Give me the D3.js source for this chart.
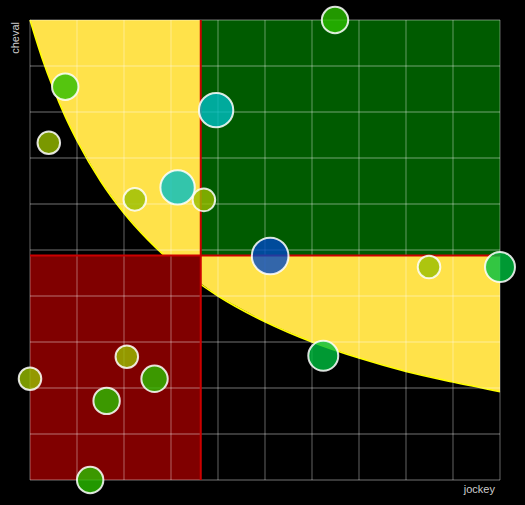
<!DOCTYPE html>
<html><head><meta charset="utf-8">
<script src="https://cdn.jsdelivr.net/npm/d3@7"></script>
<style>html,body{margin:0;padding:0;background:#000;}svg{display:block;}</style>
</head><body>
<script>
// ---- data ----
const jockey = [6.49, 0.75, 0.40, 3.96, 2.23, 3.14, 3.70, 5.11, 8.49, 10.0, 6.24, 2.06, 2.65, 0.00, 1.63, 1.28];
const cheval = [10.0, 8.55, 7.33, 8.04, 6.10, 6.36, 6.09, 4.87, 4.63, 4.63, 2.70, 2.68, 2.20, 2.20, 1.72, 0.00];
const poids  = [52, 52, 38, 88, 38, 88, 38, 100, 38, 67, 67, 38, 52, 38, 52, 52];
const groupe = ["G1","G1","G2","G3","G2","G3","G2","G4","G2","G5","G5","G2","G1","G2","G1","G1"];
const groupes = ["G1","G2","G3","G4","G5"];
const ticks = [0,1,2,3,4,5,6,7,8,9,10];
// iso curve
const curveJockey = [0, 0.25, 0.5, 0.75, 1, 1.5, 2, 2.5, 3, 4, 5, 6, 7, 8, 9, 10];
const curveCheval = [10, 9.19, 8.5, 7.9, 7.38, 6.5, 5.8, 5.23, 4.75, 4.0, 3.44, 3.0, 2.65, 2.36, 2.13, 1.92];

const W = 525, H = 505;
const m = {l:30, r:25, t:20, b:25};
const svg = d3.select("body").append("svg").attr("width", W).attr("height", H)
  .style("background", "#000");

const x = d3.scaleLinear().domain([0,10]).range([m.l, W - m.r]);
const y = d3.scaleLinear().domain([0,10]).range([H - m.b, m.t]);
const r = d3.scaleSqrt().domain([0,100]).range([0,18.3]);
const color = d3.scaleOrdinal().domain(groupes)
  .range(["#2abe00","#99be00","#00bec3","#0047c2","#00bf40"]);

const mx = d3.mean(jockey), my = d3.mean(cheval);
const [x0, x1] = x.domain(), [y0, y1] = y.domain();

// yellow area above the iso curve
const pts = curveJockey.map((d,i)=>[d, curveCheval[i]]);
const area = pts.concat([[x1, y1],[x0, y1]]);
svg.append("path")
  .attr("d", "M" + area.map(p=>[x(p[0]), y(p[1])].join(",")).join("L") + "Z")
  .attr("fill", "#ffe24a");
svg.append("path").datum(pts)
  .attr("d", d3.line().x(d=>x(d[0])).y(d=>y(d[1])).curve(d3.curveMonotoneX))
  .attr("fill","none").attr("stroke","#ffff00").attr("stroke-width",1.6);

// quadrants
svg.append("rect").attr("x", x(mx)).attr("y", y(y1))
  .attr("width", x(x1)-x(mx)).attr("height", y(my)-y(y1)).attr("fill", "#005b00");
svg.append("rect").attr("x", x(x0)).attr("y", y(my))
  .attr("width", x(mx)-x(x0)).attr("height", y(y0)-y(my)).attr("fill", "#800000");

// grid
const g = svg.append("g").attr("stroke","rgba(255,255,255,0.3)").attr("stroke-width",1.3);
g.selectAll(".v").data(ticks).join("line")
  .attr("x1", d=>x(d)).attr("x2", d=>x(d)).attr("y1", y(y0)).attr("y2", y(y1));
g.selectAll(".h").data(ticks).join("line")
  .attr("y1", d=>y(d)).attr("y2", d=>y(d)).attr("x1", x(x0)).attr("x2", x(x1));

// mean lines
svg.append("line").attr("x1", x(mx)).attr("x2", x(mx)).attr("y1", y(y1)).attr("y2", y(y0))
  .attr("stroke","#cc0000").attr("stroke-width",2);
svg.append("line").attr("x1", x(x0)).attr("x2", x(x1)).attr("y1", y(my)).attr("y2", y(my))
  .attr("stroke","#cc0000").attr("stroke-width",2);

// bubbles
svg.append("g").selectAll("circle").data(jockey.map((d,i)=>i)).join("circle")
  .attr("cx", i=>x(jockey[i])).attr("cy", i=>y(cheval[i])).attr("r", i=>r(poids[i]))
  .attr("fill", i=>color(groupe[i])).attr("fill-opacity", 0.8)
  .attr("stroke", "rgba(255,255,255,0.85)").attr("stroke-width", 2);

// axis labels
svg.append("text").attr("x", 495).attr("y", 493).attr("text-anchor","end")
  .attr("font-family","Liberation Sans, Arial, sans-serif").attr("font-size",11)
  .attr("fill","#cccccc").text("jockey");
svg.append("text").attr("transform","translate(19,22) rotate(-90)").attr("text-anchor","end")
  .attr("font-family","Liberation Sans, Arial, sans-serif").attr("font-size",11)
  .attr("fill","#cccccc").text("cheval");
</script>
</body></html>
